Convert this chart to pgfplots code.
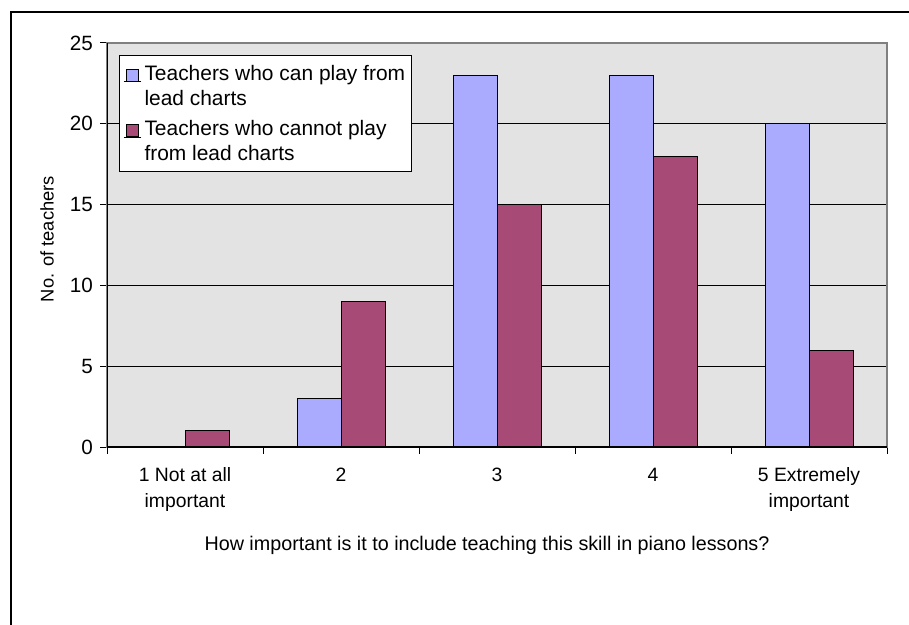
\documentclass[border=0pt]{standalone}
\usepackage{fontspec}
\setmainfont{Liberation Sans}
\usepackage{pgfplots}
\pgfplotsset{compat=1.18}
\definecolor{bgray}{HTML}{E3E3E3}
\definecolor{cblue}{HTML}{AAAAFF}
\definecolor{cmaroon}{HTML}{A84A76}
\begin{document}
\begin{tikzpicture}
\useasboundingbox (-80.25pt,-132.75pt) rectangle (601.5pt,335.25pt);
\draw[line width=1.5pt] (-72pt,-140pt) -- (-72pt,326.25pt) -- (610pt,326.25pt);
\begin{axis}[
  at={(0,0)}, anchor=south west,
  scale only axis, width=585pt, height=303pt,
  ybar=0pt, bar width=33pt,
  xmin=-0.5, xmax=4.5, ymin=0, ymax=25,
  ytick={0,5,...,25},
  xtick={0,...,4},
  xticklabels={{1 Not at all\\important},2,3,4,{5 Extremely\\important}},
  minor xtick={-0.5,0.5,...,4.5},
  major x tick style={draw=none},
  tick align=outside, xtick pos=bottom, ytick pos=left,
  major tick length=5pt, minor tick length=5pt,
  tick style={black, line width=0.75pt},
  ymajorgrids, grid style={black, line width=0.75pt},
  axis background/.style={fill=bgray},
  axis line style={draw=gray, line width=1pt},
  /pgf/number format/assume math mode=true,
  ticklabel style={font=\fontsize{14.5}{19.5}\selectfont},
  yticklabel style={font=\fontsize{15.5}{19.5}\selectfont, xshift=-2pt},
  xticklabel style={align=center, yshift=-7pt},
  xlabel={How important is it to include teaching this skill in piano lessons?},
  ylabel={No. of teachers},
  every axis x label/.style={at={(rel axis cs:0.5,0)}, yshift=-73.5pt, xshift=-7.5pt, anchor=center, font=\fontsize{14.8}{17}\selectfont},
  every axis y label/.style={at={(rel axis cs:0,0.5)}, xshift=-45pt, yshift=4.5pt, rotate=90, anchor=center, font=\fontsize{13.75}{16}\selectfont},
  legend style={at={(0,1)}, anchor=north west, xshift=9pt, yshift=-9pt, draw=black, line width=0.75pt, fill=white,
    font=\fontsize{15.7}{18.75}\selectfont, cells={align=left}, row sep=6pt, inner xsep=3pt, inner ysep=5pt},
  legend cell align=left,
]
\addplot[fill=cblue, draw=black, line width=0.75pt,
  legend image code/.code={\draw[fill=cblue, draw=black, line width=0.6pt] (2pt,3.5pt) rectangle (11pt,12.5pt); \path (0pt,3pt) -- (13pt,3pt);}]
  coordinates {(0,0) (1,3) (2,23) (3,23) (4,20)};
\addlegendentry{Teachers who can play from\\lead charts}
\addplot[fill=cmaroon, draw=black, line width=0.75pt,
  legend image code/.code={\draw[fill=cmaroon, draw=black, line width=0.6pt] (2pt,3.5pt) rectangle (11pt,12.5pt); \path (0pt,3pt) -- (13pt,3pt);}]
  coordinates {(0,1) (1,9) (2,15) (3,18) (4,6)};
\addlegendentry{Teachers who cannot play\\from lead charts}
\draw[black, line width=1pt] (rel axis cs:0,1) -- (rel axis cs:0,0) -- (rel axis cs:1,0);
\end{axis}
\end{tikzpicture}
\end{document}
